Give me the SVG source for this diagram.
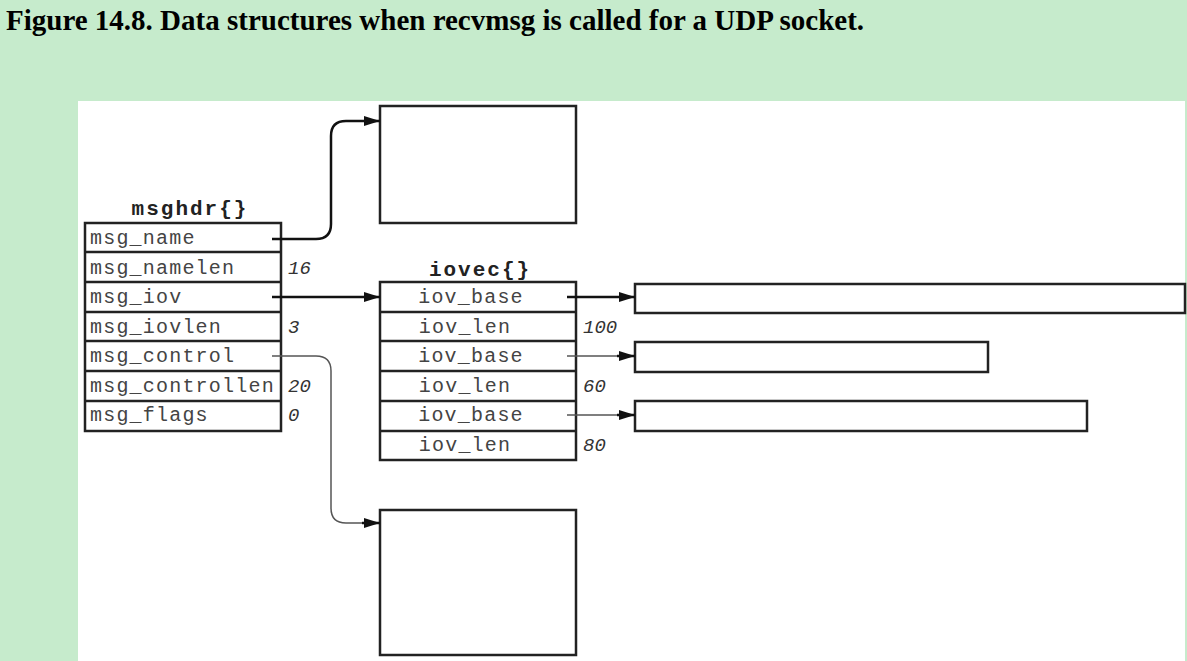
<svg xmlns="http://www.w3.org/2000/svg" width="1187" height="661" viewBox="0 0 1187 661">
<defs>
<marker id="ah" viewBox="0 0 16 10" refX="16" refY="5" markerWidth="16" markerHeight="10" markerUnits="userSpaceOnUse" orient="auto"><path d="M0,0 L16,5 L0,10 z" fill="#111"/></marker>
<style>
.box{fill:#fff;stroke:#222;stroke-width:2.5}
.sep{stroke:#222;stroke-width:2.5}
.fld{font-family:"Liberation Mono",monospace;font-size:20px;letter-spacing:1.2px;fill:#444}
.hdr{font-family:"Liberation Mono",monospace;font-size:21px;font-weight:bold;letter-spacing:2px;fill:#222}
.val{font-family:"Liberation Mono",monospace;font-size:19px;font-style:italic;fill:#333}
.con{fill:none;stroke:#111;stroke-width:2.5}
.thin{fill:none;stroke:#555;stroke-width:1.5}
</style>
</defs>
<rect x="0" y="0" width="1187" height="661" fill="#c6ebcc"/>
<rect x="78" y="101" width="1107" height="560" fill="#fff"/>
<text x="6" y="30" font-family="Liberation Serif,serif" font-weight="bold" font-size="29" fill="#000">Figure 14.8. Data structures when recvmsg is called for a UDP socket.</text>

<g id="msghdr">
<text class="hdr" x="190" y="215" text-anchor="middle">msghdr{}</text>
<rect class="box" x="85" y="223" width="196" height="208"/>
<line class="sep" x1="85" y1="252" x2="281" y2="252"/>
<line class="sep" x1="85" y1="282" x2="281" y2="282"/>
<line class="sep" x1="85" y1="312" x2="281" y2="312"/>
<line class="sep" x1="85" y1="341" x2="281" y2="341"/>
<line class="sep" x1="85" y1="371" x2="281" y2="371"/>
<line class="sep" x1="85" y1="401" x2="281" y2="401"/>
<text class="fld" x="90" y="244">msg_name</text>
<text class="fld" x="90" y="274">msg_namelen</text>
<text class="fld" x="90" y="303">msg_iov</text>
<text class="fld" x="90" y="333">msg_iovlen</text>
<text class="fld" x="90" y="362">msg_control</text>
<text class="fld" x="90" y="392">msg_controllen</text>
<text class="fld" x="90" y="421">msg_flags</text>
<text class="val" x="288" y="274">16</text>
<text class="val" x="288" y="333">3</text>
<text class="val" x="288" y="392">20</text>
<text class="val" x="288" y="421">0</text>
</g>

<g id="iovec">
<text class="hdr" x="480" y="276" text-anchor="middle">iovec{}</text>
<rect class="box" x="380" y="282" width="196" height="178"/>
<line class="sep" x1="380" y1="312" x2="576" y2="312"/>
<line class="sep" x1="380" y1="341" x2="576" y2="341"/>
<line class="sep" x1="380" y1="371" x2="576" y2="371"/>
<line class="sep" x1="380" y1="401" x2="576" y2="401"/>
<line class="sep" x1="380" y1="431" x2="576" y2="431"/>
<text class="fld" x="471" y="303" text-anchor="middle">iov_base</text>
<text class="fld" x="465" y="333" text-anchor="middle">iov_len</text>
<text class="fld" x="471" y="362" text-anchor="middle">iov_base</text>
<text class="fld" x="465" y="392" text-anchor="middle">iov_len</text>
<text class="fld" x="471" y="421" text-anchor="middle">iov_base</text>
<text class="fld" x="465" y="451" text-anchor="middle">iov_len</text>
<text class="val" x="583" y="333">100</text>
<text class="val" x="583" y="392">60</text>
<text class="val" x="583" y="451">80</text>
</g>

<g id="name-buf"><rect class="box" x="380" y="106" width="196" height="117"/></g>
<g id="control-buf"><rect class="box" x="380" y="510" width="196" height="145"/></g>
<g id="buf1"><rect class="box" x="635" y="284" width="550" height="29"/></g>
<g id="buf2"><rect class="box" x="635" y="342" width="353" height="30"/></g>
<g id="buf3"><rect class="box" x="635" y="401" width="452" height="30"/></g>

<g id="connectors">
<path class="con" d="M272,239 H316 Q331,239 331,224 V136 Q331,121 346,121 H380" marker-end="url(#ah)"/>
<path class="con" d="M272,297 H380" marker-end="url(#ah)"/>
<path class="thin" d="M272,356 H316 Q331,356 331,371 V508 Q331,523 346,523 H366"/>
<path class="con" d="M362,523 H380" marker-end="url(#ah)"/>
<path class="con" d="M567,297 H635" marker-end="url(#ah)"/>
<path class="thin" d="M567,356 H621"/>
<path class="con" d="M617,356 H635" marker-end="url(#ah)"/>
<path class="thin" d="M567,415 H621"/>
<path class="con" d="M617,415 H635" marker-end="url(#ah)"/>
</g>
</svg>
